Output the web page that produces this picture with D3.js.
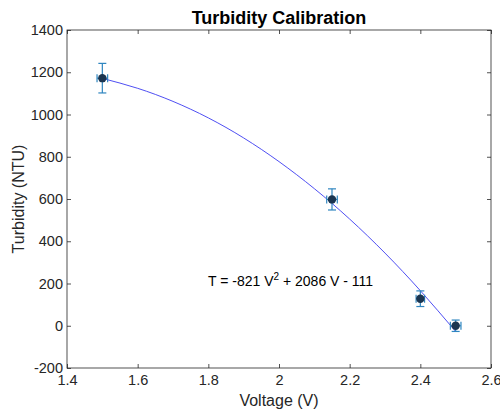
<!DOCTYPE html>
<html><head><meta charset="utf-8">
<script src="https://cdn.jsdelivr.net/npm/d3@7"></script>
<style>body{margin:0;background:#fff}svg{display:block}text{font-family:"Liberation Sans",Arial,sans-serif}</style>
</head><body><svg id="c" width="500" height="412"></svg>
<script>
const voltage = [1.5, 2.15, 2.4, 2.5];
const turbidity = [1172, 598, 128, 0];
const turbErr = [70, 50, 37, 27];
const voltErr = [0.015, 0.015, 0.012, 0.015];
const fitV = [1.5, 1.6, 1.7, 1.8, 1.9, 2.0, 2.1, 2.2, 2.3, 2.4, 2.5];
const fitT = [1171, 1124, 1062, 984, 889, 777, 649, 505, 344, 166, -27];
const xTicks = [1.4, 1.6, 1.8, 2, 2.2, 2.4, 2.6];
const yTicks = [-200, 0, 200, 400, 600, 800, 1000, 1200, 1400];

const svg = d3.select("#c");
const L = 67, R = 491, T = 30, B = 368;
const x = d3.scaleLinear().domain([1.4, 2.6]).range([L, R]);
const y = d3.scaleLinear().domain([-200, 1400]).range([B, T]);
const axCol = "#262626";

svg.append("rect").attr("x", L).attr("y", T).attr("width", R - L).attr("height", B - T)
  .attr("fill", "none").attr("stroke", axCol).attr("stroke-width", 0.8);

const fmt = d => String(d);
const ax = (g, axis) => { g.call(axis); g.select(".domain").remove(); g.selectAll("line").attr("stroke", axCol).attr("stroke-width", 0.8); g.selectAll("text").attr("fill", axCol).attr("font-size", 14.5); };
svg.append("g").attr("transform", `translate(0,${B})`).call(g => ax(g, d3.axisBottom(x).tickValues(xTicks).tickFormat(fmt).tickSizeInner(-4).tickSizeOuter(0).tickPadding(7)));
svg.append("g").attr("transform", `translate(0,${T})`).call(g => { ax(g, d3.axisTop(x).tickValues(xTicks).tickSizeInner(-4).tickSizeOuter(0)); g.selectAll("text").remove(); });
svg.append("g").attr("transform", `translate(${L},0)`).call(g => ax(g, d3.axisLeft(y).tickValues(yTicks).tickFormat(fmt).tickSizeInner(-4).tickSizeOuter(0).tickPadding(4)));
svg.append("g").attr("transform", `translate(${R},0)`).call(g => { ax(g, d3.axisRight(y).tickValues(yTicks).tickSizeInner(-4).tickSizeOuter(0)); g.selectAll("text").remove(); });

const fit = fitV.map((v, i) => [v, fitT[i]]);
svg.append("path").datum(fit).attr("fill", "none").attr("stroke", "#3b3bf0").attr("stroke-width", 0.9)
  .attr("d", d3.line().x(d => x(d[0])).y(d => y(d[1])).curve(d3.curveNatural));

const pts = voltage.map((v, i) => ({ v, t: turbidity[i], e: turbErr[i], ve: voltErr[i] }));
const eb = "#2f86c0", cap = 4;
const g = svg.append("g").attr("stroke", eb).attr("stroke-width", 1.2).attr("fill", "none");
pts.forEach(p => {
  const cx = x(p.v), cy = y(p.t);
  g.append("line").attr("x1", cx).attr("x2", cx).attr("y1", y(p.t + p.e)).attr("y2", y(p.t - p.e));
  g.append("line").attr("x1", cx - cap).attr("x2", cx + cap).attr("y1", y(p.t + p.e)).attr("y2", y(p.t + p.e));
  g.append("line").attr("x1", cx - cap).attr("x2", cx + cap).attr("y1", y(p.t - p.e)).attr("y2", y(p.t - p.e));
  g.append("line").attr("x1", x(p.v - p.ve)).attr("x2", x(p.v + p.ve)).attr("y1", cy).attr("y2", cy);
  g.append("line").attr("x1", x(p.v - p.ve)).attr("x2", x(p.v - p.ve)).attr("y1", cy - cap).attr("y2", cy + cap);
  g.append("line").attr("x1", x(p.v + p.ve)).attr("x2", x(p.v + p.ve)).attr("y1", cy - cap).attr("y2", cy + cap);
});
svg.selectAll("circle.m").data(pts).join("circle").attr("class", "m")
  .attr("cx", d => x(d.v)).attr("cy", d => y(d.t)).attr("r", 4.2).attr("fill", "#1b3550");

svg.append("text").attr("x", 279).attr("y", 24).attr("text-anchor", "middle")
  .attr("font-size", 18).attr("font-weight", "bold").attr("fill", "#000").text("Turbidity Calibration");
svg.append("text").attr("x", 279).attr("y", 406).attr("text-anchor", "middle")
  .attr("font-size", 16).attr("fill", axCol).text("Voltage (V)");
svg.append("text").attr("transform", `translate(24,${(T + B) / 2}) rotate(-90)`).attr("text-anchor", "middle")
  .attr("font-size", 16).attr("fill", axCol).text("Turbidity (NTU)");
const eq = svg.append("text").attr("x", 208).attr("y", 286).attr("font-size", 14).attr("fill", "#000");
eq.append("tspan").text("T = -821 V");
eq.append("tspan").attr("dy", -6).attr("font-size", 10).text("2");
eq.append("tspan").attr("dy", 6).text(" + 2086 V - 111");
</script></body></html>
